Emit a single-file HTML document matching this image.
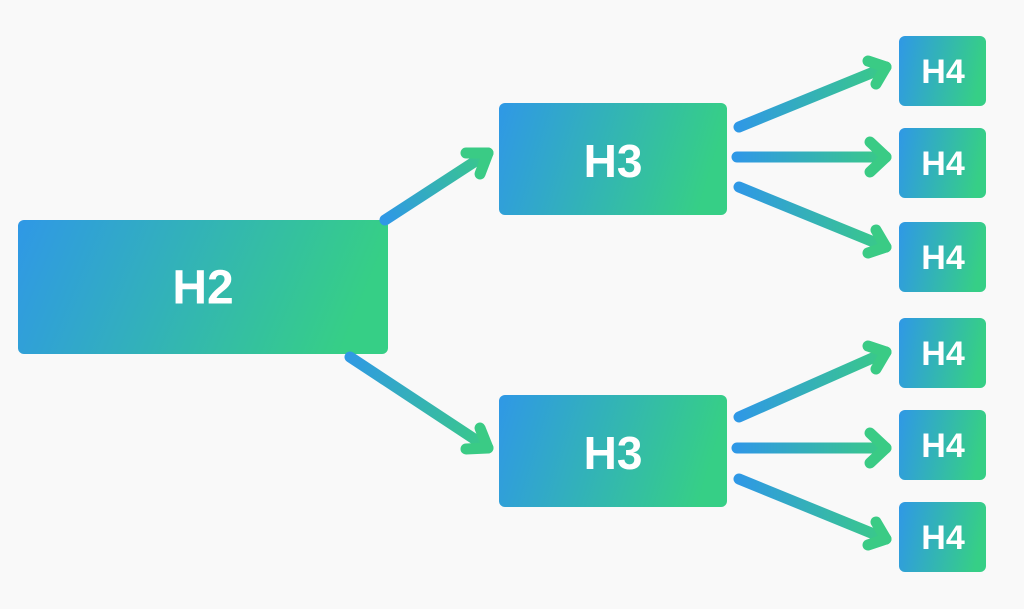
<!DOCTYPE html>
<html><head><meta charset="utf-8"><style>
body{margin:0;background:#f9f9f9;}
svg{display:block}
text{font-family:"Liberation Sans",sans-serif;font-weight:bold;fill:#fff;text-anchor:middle;dominant-baseline:central}
</style></head><body>
<svg width="1024" height="609" viewBox="0 0 1024 609">
<defs>
<linearGradient id="bg" x1="0" y1="0" x2="1" y2="0.15">
<stop offset="0" stop-color="#2f98e6"/><stop offset="1" stop-color="#36cf86"/></linearGradient>
<linearGradient id="g1" gradientUnits="userSpaceOnUse" x1="385" y1="220" x2="490" y2="152"><stop offset="0" stop-color="#2f98e6"/><stop offset="1" stop-color="#3acb85"/></linearGradient>
<linearGradient id="g2" gradientUnits="userSpaceOnUse" x1="345" y1="354" x2="490" y2="450"><stop offset="0" stop-color="#2f98e6"/><stop offset="1" stop-color="#3acb85"/></linearGradient>
<linearGradient id="g3" gradientUnits="userSpaceOnUse" x1="737" y1="0" x2="888" y2="0"><stop offset="0" stop-color="#2f98e6"/><stop offset="1" stop-color="#3acb85"/></linearGradient>
</defs>
<rect x="18" y="220" width="370" height="134" rx="6" fill="url(#bg)"/>
<text x="203" y="288" font-size="48">H2</text>
<rect x="499" y="103" width="228" height="112" rx="6" fill="url(#bg)"/>
<text x="613" y="161" font-size="46">H3</text>
<rect x="499" y="395" width="228" height="112" rx="6" fill="url(#bg)"/>
<text x="613" y="453" font-size="46">H3</text>
<g fill="url(#bg)">
<rect x="899" y="36" width="87" height="70" rx="6"/>
<rect x="899" y="128" width="87" height="70" rx="6"/>
<rect x="899" y="222" width="87" height="70" rx="6"/>
<rect x="899" y="318" width="87" height="70" rx="6"/>
<rect x="899" y="410" width="87" height="70" rx="6"/>
<rect x="899" y="502" width="87" height="70" rx="6"/>
</g>
<g font-size="34">
<text x="943" y="72">H4</text><text x="943" y="164">H4</text><text x="943" y="258">H4</text>
<text x="943" y="354">H4</text><text x="943" y="446">H4</text><text x="943" y="538">H4</text>
</g>
<g stroke-width="11" stroke-linecap="round" stroke-linejoin="round" fill="none">
<line x1="385" y1="220" x2="488" y2="153" stroke="url(#g1)"/>
<polyline points="466,153 488,153 480,174" stroke="#3acb85"/>
<line x1="350" y1="357" x2="488" y2="448" stroke="url(#g2)"/>
<polyline points="480,428 488,448 466,449" stroke="#3acb85"/>
<g stroke="url(#g3)">
<line x1="739" y1="127" x2="886" y2="67"/>
<line x1="737" y1="157" x2="886" y2="157"/>
<line x1="739" y1="187" x2="886" y2="247"/>
<line x1="739" y1="417" x2="886" y2="352"/>
<line x1="737" y1="448" x2="886" y2="448"/>
<line x1="739" y1="479" x2="886" y2="539"/>
</g>
<g stroke="#3acb85">
<polyline points="868,61 886,67 876,84"/>
<polyline points="870,142 886,157 870,172"/>
<polyline points="876,230 886,247 868,253"/>
<polyline points="868,346 886,352 876,369"/>
<polyline points="870,433 886,448 870,463"/>
<polyline points="876,522 886,539 868,545"/>
</g>
</g>
</svg>
</body></html>
